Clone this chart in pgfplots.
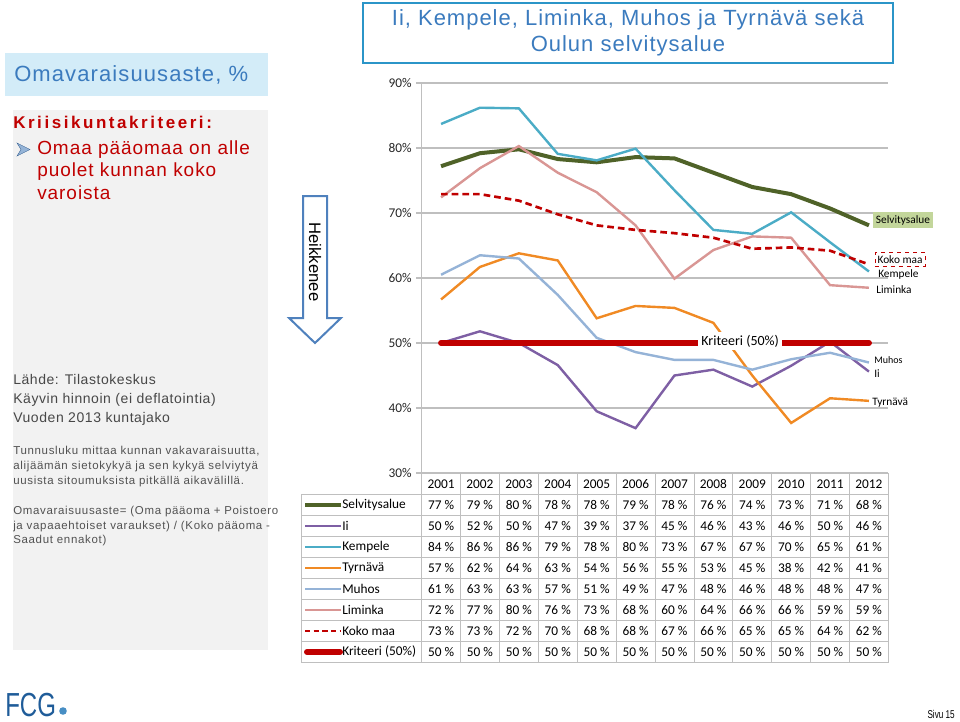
\documentclass[border=0pt]{standalone}
\usepackage{pgfplots}
\pgfplotsset{compat=1.18}
\usepackage{fontspec}
\setmainfont{Liberation Sans}
\newfontfamily\calfont{Carlito}
\newfontfamily\spA[LetterSpace=4.5]{Liberation Sans}
\newfontfamily\spB[LetterSpace=5]{Liberation Sans}
\newfontfamily\spC[LetterSpace=15]{Liberation Sans}
\newfontfamily\spD[LetterSpace=4]{Liberation Sans}
\newfontfamily\spE[LetterSpace=6]{Liberation Sans}
\newfontfamily\narrowfont[FakeStretch=0.72]{Liberation Sans}

\definecolor{selv}{HTML}{4F6228}
\definecolor{ii}{HTML}{7E5FA4}
\definecolor{kemp}{HTML}{4BACC6}
\definecolor{tyrn}{HTML}{F08A24}
\definecolor{muhos}{HTML}{95B3D7}
\definecolor{limi}{HTML}{D99694}
\definecolor{koko}{HTML}{C00000}
\definecolor{krit}{HTML}{C00000}
\definecolor{gridc}{HTML}{BFBFBF}
\definecolor{titleblue}{HTML}{3B7BBE}
\definecolor{titleborder}{HTML}{2B95C8}
\definecolor{boxblue}{HTML}{D3ECF8}
\definecolor{greybox}{HTML}{F2F2F2}
\definecolor{darkred}{HTML}{C00000}
\definecolor{arrowblue}{HTML}{4F81BD}
\definecolor{selvbox}{HTML}{C3D69B}
\definecolor{fcgblue}{HTML}{1F5C99}

\begin{document}
\begin{tikzpicture}[x=0.75pt,y=-0.75pt]
\path[use as bounding box] (0,0) rectangle (960,721);

% ---------- title box ----------
\draw[titleborder, line width=2.2pt] (363,3) rectangle (893,63);
\node[titleblue, font=\spA\fontsize{16.5}{19}\selectfont] at (628,20) {Ii, Kempele, Liminka, Muhos ja Tyrnävä sekä};
\node[titleblue, font=\spA\fontsize{16.5}{19}\selectfont] at (628,46) {Oulun selvitysalue};

% ---------- left panel ----------
\fill[boxblue] (5,53) rectangle (268,96);
\node[anchor=west, inner sep=0pt, titleblue, font=\spB\fontsize{16.5}{19}\selectfont] at (14,75) {Omavaraisuusaste, \%};
\fill[greybox] (13,110) rectangle (268,650);
\node[anchor=west, inner sep=0pt, darkred, font=\spC\bfseries\fontsize{12.75}{15}\selectfont] at (13,122) {Kriisikuntakriteeri:};
\fill[arrowblue!60, draw=arrowblue!80!black, line width=0.3pt] (17,143) -- (30,149.5) -- (17,156) -- (21,149.5) -- cycle;
\node[anchor=north west, inner sep=0pt, darkred, align=left, font=\spB\fontsize{14.25}{16.9}\selectfont] at (37,140) {Omaa pääomaa on alle\\puolet kunnan koko\\varoista};
\node[anchor=north west, inner sep=0pt, black!72, align=left, font=\spD\fontsize{10.5}{14.25}\selectfont] at (13,374) {Lähde: Tilastokeskus\\Käyvin hinnoin (ei deflatointia)\\Vuoden 2013 kuntajako};
\node[anchor=north west, inner sep=0pt, black!68, align=left, font=\spE\fontsize{8.6}{11.25}\selectfont] at (13,446) {Tunnusluku mittaa kunnan vakavaraisuutta,\\alijäämän sietokykyä ja sen kykyä selviytyä\\uusista sitoumuksista pitkällä aikavälillä.};
\node[anchor=north west, inner sep=0pt, black!68, align=left, font=\spE\fontsize{8.6}{11}\selectfont] at (13,506) {Omavaraisuusaste= (Oma pääoma + Poistoero\\ja vapaaehtoiset varaukset) / (Koko pääoma -\\Saadut ennakot)};

% ---------- arrow ----------
\draw[arrowblue, line width=1.5pt, fill=white, line join=miter]
  (303,196) -- (327,196) -- (327,318) -- (341,318) -- (315,343) -- (289,318) -- (303,318) -- cycle;
\node[rotate=-90, font=\fontsize{12.5}{14}\selectfont] at (315,262) {Heikkenee};

% ---------- chart ----------
\begin{axis}[
  at={(316.2pt,-354.75pt)}, anchor=south west, scale only axis,
  width=350.1pt, height=292.5pt,
  xmin=2000.5, xmax=2012.5, ymin=30, ymax=90,
  axis x line=none, axis y line*=left,
  y axis line style={gridc, line width=0.8pt},
  ytick={30,40,50,60,70,80,90},
  /pgf/number format/assume math mode=true,
  yticklabel={\pgfmathprintnumber{\tick}\%},
  yticklabel style={font=\calfont\fontsize{10}{12}\selectfont, text=black!85},
  ymajorgrids, grid style={gridc, line width=0.8pt},
  tick align=outside, major tick length=4pt,
  ytick style={gridc, line width=0.8pt},
  clip=false,
]
\addplot[selv, line width=3pt] coordinates {(2001,77.2)(2002,79.2)(2003,79.8)(2004,78.3)(2005,77.8)(2006,78.6)(2007,78.4)(2008,76.2)(2009,74.0)(2010,72.9)(2011,70.7)(2012,68.1)};
\addplot[ii, line width=1.8pt] coordinates {(2001,50.0)(2002,51.8)(2003,50.0)(2004,46.6)(2005,39.5)(2006,36.9)(2007,45.0)(2008,45.9)(2009,43.3)(2010,46.5)(2011,50.2)(2012,45.6)};
\addplot[kemp, line width=1.8pt] coordinates {(2001,83.7)(2002,86.2)(2003,86.1)(2004,79.1)(2005,78.1)(2006,79.9)(2007,73.5)(2008,67.4)(2009,66.8)(2010,70.1)(2011,65.5)(2012,61.0)};
\addplot[tyrn, line width=1.8pt] coordinates {(2001,56.7)(2002,61.7)(2003,63.8)(2004,62.7)(2005,53.8)(2006,55.7)(2007,55.4)(2008,53.1)(2009,45.0)(2010,37.7)(2011,41.5)(2012,41.1)};
\addplot[muhos, line width=1.8pt] coordinates {(2001,60.5)(2002,63.5)(2003,63.0)(2004,57.4)(2005,50.8)(2006,48.6)(2007,47.4)(2008,47.4)(2009,45.9)(2010,47.5)(2011,48.5)(2012,47.0)};
\addplot[limi, line width=1.8pt] coordinates {(2001,72.4)(2002,76.9)(2003,80.3)(2004,76.2)(2005,73.2)(2006,68.1)(2007,59.9)(2008,64.3)(2009,66.4)(2010,66.2)(2011,58.9)(2012,58.5)};
\addplot[koko, line width=2pt, dash pattern=on 5pt off 3pt] coordinates {(2001,72.9)(2002,72.9)(2003,71.9)(2004,69.8)(2005,68.1)(2006,67.4)(2007,66.9)(2008,66.2)(2009,64.5)(2010,64.7)(2011,64.2)(2012,62.1)};
\addplot[krit, line width=4.5pt, line cap=round] coordinates {(2001,50)(2002,50)(2003,50)(2004,50)(2005,50)(2006,50)(2007,50)(2008,50)(2009,50)(2010,50)(2011,50)(2012,50)};
\node[fill=white, inner sep=2.5pt, font=\calfont\fontsize{10.5}{12}\selectfont] at (axis cs:2008.69,50.3) {Kriteeri (50\%)};
\end{axis}

% ---------- right labels ----------
\node[fill=selvbox, inner sep=2pt, font=\calfont\fontsize{8.5}{10}\selectfont] at (903,220) {Selvitysalue};
\node[draw=koko, dashed, line width=0.6pt, inner sep=2pt, font=\calfont\fontsize{8.5}{10}\selectfont] at (900,259.5) {Koko maa};
\node[anchor=west, inner sep=0pt, font=\calfont\fontsize{8.5}{10}\selectfont] at (878,274) {Kempele};
\node[anchor=west, inner sep=0pt, font=\calfont\fontsize{8.5}{10}\selectfont] at (876,290) {Liminka};
\node[anchor=west, inner sep=0pt, font=\calfont\fontsize{7.5}{9}\selectfont] at (874,360) {Muhos};
\node[anchor=west, inner sep=0pt, font=\calfont\fontsize{8.5}{10}\selectfont] at (874,374) {Ii};
\node[anchor=west, inner sep=0pt, font=\calfont\fontsize{8.5}{10}\selectfont] at (872,403) {Tyrnävä};

% ---------- data table ----------
\draw[gridc, line width=0.6pt] (301,494) rectangle (888.4,662);
\foreach \k in {1,...,12} \draw[gridc, line width=0.6pt] ({421.6+38.9*\k},473) -- ({421.6+38.9*\k},662);
\draw[gridc, line width=0.8pt] (421.6,473) -- (421.6,662);
\foreach \r in {1,...,7} \draw[gridc, line width=0.6pt] (301,{494+21*\r}) -- (888.4,{494+21*\r});
\foreach \yr [count=\j from 0] in {2001,2002,2003,2004,2005,2006,2007,2008,2009,2010,2011,2012}
  \node[font=\calfont\fontsize{10}{12}\selectfont] at ({441.05+38.9*\j},484) {\yr};
\foreach \vals [count=\r from 0] in {
  {77,79,80,78,78,79,78,76,74,73,71,68},
  {50,52,50,47,39,37,45,46,43,46,50,46},
  {84,86,86,79,78,80,73,67,67,70,65,61},
  {57,62,64,63,54,56,55,53,45,38,42,41},
  {61,63,63,57,51,49,47,48,46,48,48,47},
  {72,77,80,76,73,68,60,64,66,66,59,59},
  {73,73,72,70,68,68,67,66,65,65,64,62},
  {50,50,50,50,50,50,50,50,50,50,50,50}}
{
  \foreach \v [count=\j from 0] in \vals
    \node[font=\calfont\fontsize{10}{12}\selectfont] at ({441.05+38.9*\j},{505+21*\r}) {\v~\%};
}
\foreach \nm [count=\r from 0] in {Selvitysalue,Ii,Kempele,Tyrnävä,Muhos,Liminka,Koko maa,Kriteeri (50\%)}
  \node[anchor=west, inner sep=0pt, font=\calfont\fontsize{10}{12}\selectfont] at (342,{505+21*\r}) {\nm};
\draw[selv, line width=3pt] (305,505) -- (341,505);
\draw[ii, line width=1.8pt] (305,526) -- (341,526);
\draw[kemp, line width=1.8pt] (305,547) -- (341,547);
\draw[tyrn, line width=1.8pt] (305,568) -- (341,568);
\draw[muhos, line width=1.8pt] (305,589) -- (341,589);
\draw[limi, line width=1.8pt] (305,610) -- (341,610);
\draw[koko, line width=1.8pt, dash pattern=on 4pt off 2.5pt] (305,631) -- (341,631);
\draw[krit, line width=4.5pt, line cap=round] (307,652) -- (340,652);

% ---------- footer ----------
\node[anchor=base west, inner sep=0pt, fcgblue, font=\narrowfont\fontsize{25}{27}\selectfont] at (5,716) {FCG};
\fill[arrowblue!90!cyan] (63,711) circle (3.8);
\node[anchor=east, inner sep=0pt, font=\narrowfont\fontsize{8.5}{9}\selectfont] at (955,714) {Sivu 15};
\end{tikzpicture}
\end{document}
